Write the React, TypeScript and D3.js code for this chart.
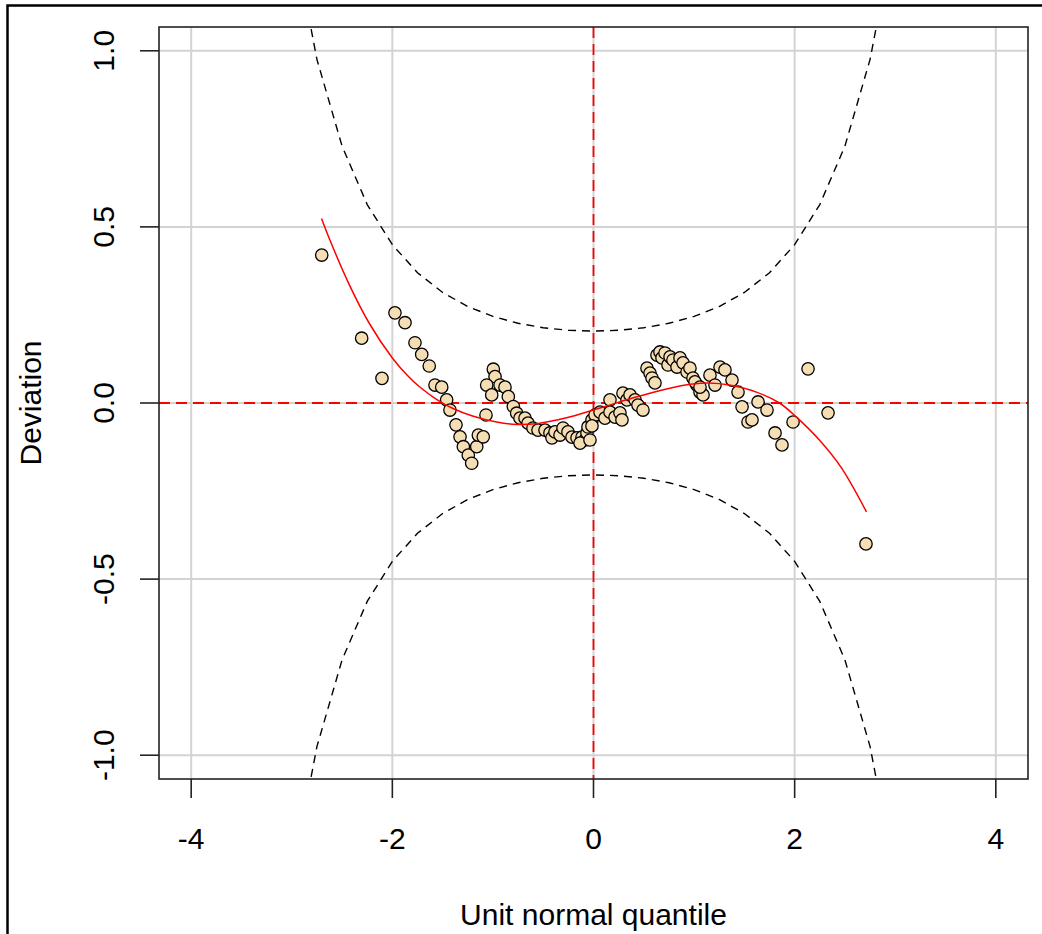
import React from "react";
import * as d3 from "d3";

// Worm plot data
const pointX = [
  -2.702, -2.305, -2.103, -1.974, -1.874, -1.775, -1.708, -1.633, -1.576, -1.509,
  -1.46, -1.427, -1.367, -1.327, -1.294, -1.245, -1.211, -1.161, -1.145, -1.096,
  -1.069, -0.996, -0.979, -1.062, -1.012, -0.929, -0.88, -0.847, -0.797, -0.764,
  -0.731, -0.681, -0.651, -0.602, -0.552, -0.482, -0.433, -0.413, -0.383, -0.333,
  -0.303, -0.254, -0.214, -0.164, -0.114, -0.084, -0.065, -0.055, -0.015, 0.015,
  0.065, 0.114, 0.164, 0.164, 0.214, 0.263, 0.283, 0.293, 0.333, 0.363,
  0.413, 0.442, 0.492, 0.532, 0.562, 0.582, 0.611, 0.631, 0.661, 0.681,
  0.711, 0.741, 0.761, 0.79, 0.83, 0.86, 0.89, 0.93, 0.959, 0.989,
  1.029, 1.059, 1.089, 1.158, 1.208, 1.258, 1.307, 1.377, 1.437, 1.477,
  1.636, 1.725, 1.536, 1.576, 1.805, 1.874, 1.984, 2.133, 2.332, 2.709,
  -0.134, -0.035, -0.015, 1.009, 1.059,
];
const pointY = [
  0.42, 0.184, 0.07, 0.256, 0.228, 0.171, 0.138, 0.105, 0.051, 0.045,
  0.009, -0.02, -0.062, -0.096, -0.124, -0.148, -0.171, -0.124, -0.091, -0.096,
  -0.034, 0.096, 0.075, 0.051, 0.023, 0.051, 0.045, 0.018, -0.01, -0.029,
  -0.043, -0.043, -0.057, -0.071, -0.077, -0.077, -0.085, -0.099, -0.082, -0.091,
  -0.071, -0.082, -0.097, -0.099, -0.097, -0.105, -0.085, -0.068, -0.048, -0.034,
  -0.026, -0.043, 0.009, -0.026, -0.04, -0.028, -0.048, 0.028, 0.009, 0.023,
  0.009, -0.006, -0.02, 0.099, 0.085, 0.071, 0.057, 0.136, 0.145, 0.128,
  0.142, 0.108, 0.131, 0.122, 0.102, 0.128, 0.114, 0.088, 0.099, 0.071,
  0.051, 0.031, 0.023, 0.079, 0.051, 0.102, 0.094, 0.065, 0.031, -0.011,
  0.003, -0.02, -0.054, -0.048, -0.085, -0.119, -0.054, 0.097, -0.028, -0.4,
  -0.114, -0.105, -0.065, 0.06, 0.045,
];

// Fitted (red) curve
const fitX = [
  -2.704, -2.624, -2.425, -2.227, -1.998, -1.859, -1.73, -1.561, -1.402, -1.203,
  -0.964, -0.765, -0.55, -0.268, 0, 0.16, 0.388, 0.726, 0.984, 1.15,
  1.352, 1.62, 1.849, 2.018, 2.246, 2.465, 2.714,
];
const fitY = [
  0.524, 0.465, 0.334, 0.225, 0.127, 0.081, 0.046, 0.0105, -0.015, -0.037,
  -0.054, -0.061, -0.058, -0.042, -0.02, -0.006, 0.014, 0.04, 0.054, 0.057,
  0.051, 0.031, 0.0, -0.04, -0.105, -0.184, -0.309,
];

// Confidence band (black dashed), upper half; lower is its mirror
const bandZ = [
  -3.25, -3, -2.75, -2.5, -2.25, -2, -1.75, -1.5, -1.25, -1, -0.75, -0.5, -0.25,
  0, 0.25, 0.5, 0.75, 1, 1.25, 1.5, 1.75, 2, 2.25, 2.5, 2.75, 3, 3.25,
];
const bandUpper = [
  1.926, 1.3486, 0.9757, 0.7295, 0.5634, 0.4495, 0.37, 0.3138, 0.2739, 0.2458, 0.2263, 0.2136, 0.2064,
  0.204, 0.2064, 0.2136, 0.2263, 0.2458, 0.2739, 0.3138, 0.37, 0.4495, 0.5634, 0.7295, 0.9757, 1.3486, 1.926,
];

const xTicks = [-4, -2, 0, 2, 4];
const yTicks = [-1, -0.5, 0, 0.5, 1];
const yTickLabels = ["-1.0", "-0.5", "0.0", "0.5", "1.0"];

const W = 1042;
const H = 934;
const L = 159, R = 1028, T = 27, B = 779;
const FONT = "'Liberation Sans', Arial, sans-serif";

export default function App() {
  const x = d3.scaleLinear().domain([-4.32, 4.32]).range([L, R]);
  const y = d3.scaleLinear().domain([-1.0675, 1.0675]).range([B, T]);

  const line = d3
    .line<[number, number]>()
    .x((d) => x(d[0]))
    .y((d) => y(d[1]));
  const smooth = d3
    .line<[number, number]>()
    .x((d) => x(d[0]))
    .y((d) => y(d[1]))
    .curve(d3.curveCatmullRom.alpha(0.5));

  const upper = bandZ.map((z, i) => [z, bandUpper[i]] as [number, number]);
  const lower = bandZ.map((z, i) => [z, -bandUpper[i]] as [number, number]);
  const fit = fitX.map((v, i) => [v, fitY[i]] as [number, number]);

  return (
    <svg
      width={W}
      height={H}
      style={{ position: "absolute", left: 0, top: 0, display: "block", background: "#fff" }}
      fontFamily={FONT}
    >
      <defs>
        <clipPath id="plotClip">
          <rect x={L} y={T} width={R - L} height={B - T} />
        </clipPath>
      </defs>
      <rect x={0} y={0} width={W} height={H} fill="#fff" />
      {/* outer frame */}
      <path d={`M7.5,${H} V5.5 H${W}`} fill="none" stroke="#000" strokeWidth={2.5} />

      <g clipPath="url(#plotClip)">
        {/* grid */}
        {xTicks.map((t) => (
          <line key={"gx" + t} x1={x(t)} x2={x(t)} y1={T} y2={B} stroke="#d3d3d3" strokeWidth={2} />
        ))}
        {yTicks.map((t) => (
          <line key={"gy" + t} x1={L} x2={R} y1={y(t)} y2={y(t)} stroke="#d3d3d3" strokeWidth={2} />
        ))}
        {/* reference lines */}
        <line x1={x(0)} x2={x(0)} y1={T} y2={B} stroke="#ff0000" strokeWidth={1.8} strokeDasharray="11,6" />
        <line x1={L} x2={R} y1={y(0)} y2={y(0)} stroke="#ff0000" strokeWidth={1.8} strokeDasharray="11,6" />
        {/* bands */}
        <path d={line(upper) || ""} fill="none" stroke="#000" strokeWidth={1.4} strokeDasharray="8,6" />
        <path d={line(lower) || ""} fill="none" stroke="#000" strokeWidth={1.4} strokeDasharray="8,6" />
        {/* points */}
        {pointX.map((px, i) => (
          <circle
            key={"p" + i}
            cx={x(px)}
            cy={y(pointY[i])}
            r={6.2}
            fill="#F5DEB3"
            stroke="#000"
            strokeWidth={1.3}
          />
        ))}
        {/* fitted curve */}
        <path d={smooth(fit) || ""} fill="none" stroke="#ff0000" strokeWidth={1.5} />
      </g>

      {/* box */}
      <rect x={L} y={T} width={R - L} height={B - T} fill="none" stroke="#222" strokeWidth={1.6} />

      {/* x axis */}
      {xTicks.map((t) => (
        <g key={"xt" + t}>
          <line x1={x(t)} x2={x(t)} y1={B} y2={B + 19} stroke="#222" strokeWidth={1.6} />
          <text x={x(t)} y={849} textAnchor="middle" fontSize={30} fill="#000">
            {t}
          </text>
        </g>
      ))}
      {/* y axis */}
      {yTicks.map((t, i) => (
        <g key={"yt" + t}>
          <line x1={L - 19} x2={L} y1={y(t)} y2={y(t)} stroke="#222" strokeWidth={1.6} />
          <text
            transform={`translate(114,${y(t)}) rotate(-90)`}
            textAnchor="middle"
            fontSize={30}
            fill="#000"
          >
            {yTickLabels[i]}
          </text>
        </g>
      ))}

      <text x={(L + R) / 2} y={925} textAnchor="middle" fontSize={30} fill="#000">
        Unit normal quantile
      </text>
      <text transform={`translate(41,${(T + B) / 2}) rotate(-90)`} textAnchor="middle" fontSize={30} fill="#000">
        Deviation
      </text>
    </svg>
  );
}
